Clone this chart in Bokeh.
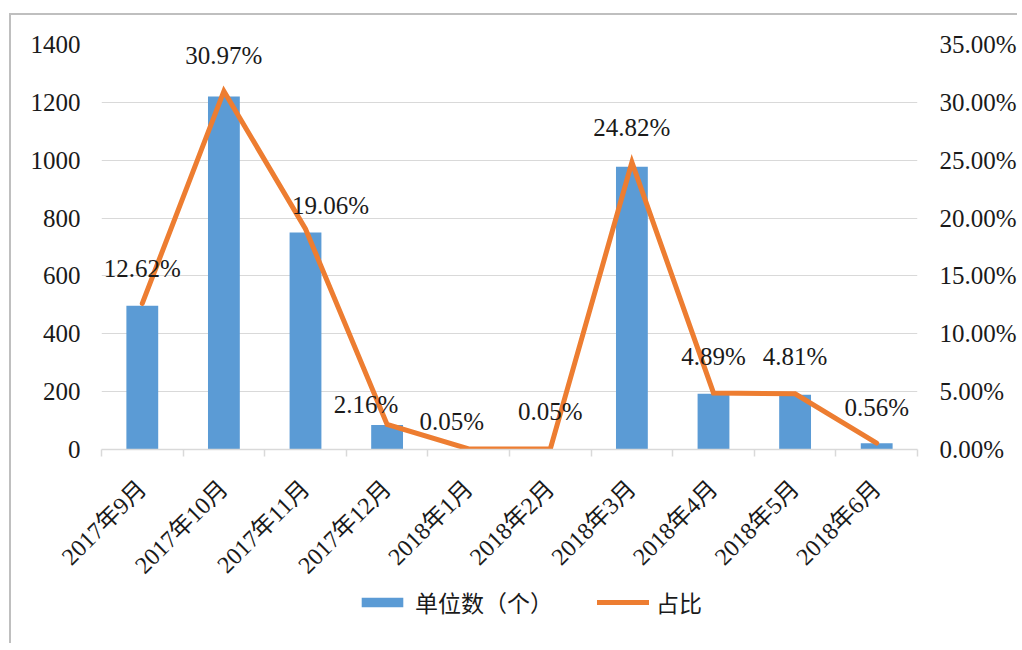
from bokeh.plotting import figure
from bokeh.layouts import column
from bokeh.models import (Range1d, LinearAxis, FixedTicker, PrintfTickFormatter,
                          Legend, LegendItem, ColumnDataSource)
from bokeh.embed import file_html
from bokeh.resources import INLINE
from bokeh.core.properties import value
import math

# ---- data ----
months = ["2017年9月", "2017年10月", "2017年11月", "2017年12月", "2018年1月",
          "2018年2月", "2018年3月", "2018年4月", "2018年5月", "2018年6月"]
counts = [497, 1220, 750, 85, 2, 2, 977, 193, 189, 22]
shares = [12.62, 30.97, 19.06, 2.16, 0.05, 0.05, 24.82, 4.89, 4.81, 0.56]
left_ticks = [0, 200, 400, 600, 800, 1000, 1200, 1400]
right_ticks = [0, 5, 10, 15, 20, 25, 30, 35]
series_names = ["单位数（个）", "占比"]

# label nudges (screen px), style only
label_dx = [0, 0, 25, -21, -17, 0, 0, 0, 0, 0]
label_dy = [-35, -36, -23, -20, -27, -37, -35, -36, -37, -36]

BAR = "#5B9BD5"
LINE = "#ED7D31"
GRID = "#D9D9D9"
TXT = "#1a1a1a"
FRAME = "2px solid #BFBFBF"
NUM_FONT = "Liberation Serif"
MIX_FONT = "Liberation Serif, Noto Sans CJK SC"

xs = list(range(len(months)))

W, H1, H2 = 1008, 575, 55
p = figure(width=W, height=H1, output_backend="svg", toolbar_location=None,
           x_range=Range1d(-0.5, len(months) - 0.5), y_range=Range1d(0, 1400),
           min_border_left=90, min_border_right=W - 907, min_border_top=29,
           min_border_bottom=H1 - 29 - 405)
p.margin = (13, 0, 0, 9)
p.styles = {"border-top": FRAME, "border-left": FRAME}
p.outline_line_color = None
p.background_fill_color = "white"
p.border_fill_color = "white"
p.xgrid.visible = False
p.ygrid.grid_line_color = GRID
p.ygrid.ticker = FixedTicker(ticks=left_ticks)

p.extra_y_ranges = {"pct": Range1d(0, 35)}

src = ColumnDataSource(dict(x=xs, count=counts, share=shares,
                            label=[f"{v:.2f}%" for v in shares],
                            dx=label_dx, dy=label_dy))

p.vbar(x="x", top="count", width=0.39, source=src, fill_color=BAR, line_color=None)
p.line(x="x", y="share", source=src, y_range_name="pct", line_color=LINE,
       line_width=5, line_join="miter", line_cap="round")
p.text(x="x", y="share", text="label", source=src, y_range_name="pct",
       x_offset="dx", y_offset="dy", text_align="center", text_baseline="middle",
       text_font=value(NUM_FONT), text_font_size="25px", text_color=TXT)

# x axis
xa = p.xaxis[0]
xa.ticker = FixedTicker(ticks=xs, minor_ticks=[i - 0.5 for i in range(len(months) + 1)])
xa.major_label_overrides = {i: m for i, m in enumerate(months)}
xa.major_label_orientation = math.pi / 4
xa.major_tick_line_color = None
xa.major_tick_out = 0
xa.major_tick_in = 0
xa.minor_tick_line_color = GRID
xa.minor_tick_line_width = 1.5
xa.minor_tick_in = 0
xa.minor_tick_out = 7
xa.axis_line_color = GRID
xa.axis_line_width = 1.5
xa.major_label_standoff = 28
xa.major_label_text_font = MIX_FONT
xa.major_label_text_font_size = "24px"
xa.major_label_text_color = TXT

# left axis
ya = p.yaxis[0]
ya.ticker = FixedTicker(ticks=left_ticks)
ya.axis_line_color = None
ya.major_tick_line_color = None
ya.major_tick_out = 0
ya.minor_tick_line_color = None
ya.major_label_standoff = 21
ya.major_label_text_font = NUM_FONT
ya.major_label_text_font_size = "25px"
ya.major_label_text_color = TXT

# right axis
ra = LinearAxis(y_range_name="pct", ticker=FixedTicker(ticks=right_ticks),
                formatter=PrintfTickFormatter(format="%.2f%%"))
ra.axis_line_color = None
ra.major_tick_line_color = None
ra.major_tick_out = 0
ra.minor_tick_line_color = None
ra.major_label_standoff = 22
ra.major_label_text_font = NUM_FONT
ra.major_label_text_font_size = "25px"
ra.major_label_text_color = TXT
p.add_layout(ra, "right")

# ---- legend strip (key renderers use the same data, kept below the view) ----
q = figure(width=W, height=H2, output_backend="svg", toolbar_location=None,
           x_range=Range1d(-0.5, len(months) - 0.5), y_range=Range1d(5000, 10000),
           min_border=0, x_axis_location=None, y_axis_location=None)
q.margin = (0, 0, 0, 9)
q.styles = {"border-left": FRAME}
q.outline_line_color = None
q.background_fill_color = "white"
q.border_fill_color = "white"
q.xgrid.visible = False
q.ygrid.visible = False
kb = q.vbar(x="x", top="count", width=0.39, source=src, fill_color=BAR, line_color=None)
kl = q.line(x="x", y="share", source=src, line_color=LINE, line_width=5, line_cap="round")
legend = Legend(items=[LegendItem(label=series_names[0], renderers=[kb]),
                       LegendItem(label=series_names[1], renderers=[kl])],
                orientation="horizontal", location=(255, 24),
                glyph_width=52, glyph_height=12, label_standoff=7, spacing=44,
                padding=0, margin=0, border_line_color=None,
                background_fill_alpha=0,
                label_text_font="Noto Sans CJK SC", label_text_font_size="23px",
                label_text_color=TXT)
q.add_layout(legend, "center")

layout = column(p, q, spacing=0)
open("out.html", "w").write(file_html(layout, INLINE))
